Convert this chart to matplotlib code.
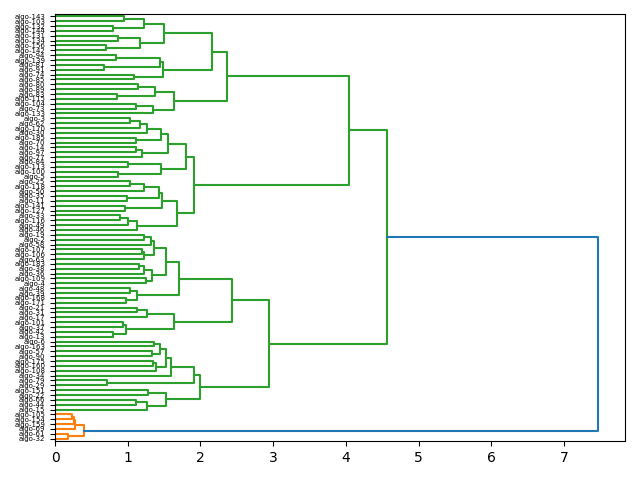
import matplotlib
matplotlib.use("Agg")
import matplotlib.pyplot as plt

# leaf labels, top to bottom
labels = ["algo-143", "algo-103", "algo-132", "algo-144", "algo-131", "algo-134", "algo-156", "algo-142",
          "algo-94", "algo-139", "algo-81", "algo-91", "algo-74", "algo-85",
          "algo-80", "algo-89", "algo-83", "algo-115", "algo-104", "algo-73", "algo-133",
          "algo-3", "algo-62", "algo-170", "algo-30", "algo-185", "algo-70", "algo-14", "algo-97", "algo-77",
          "algo-84", "algo-113", "algo-100", "algo-5",
          "algo-25", "algo-118", "algo-50", "algo-35", "algo-11", "algo-141", "algo-127",
          "algo-33", "algo-116", "algo-49", "algo-46",
          "algo-19", "algo-2", "algo-58", "algo-107", "algo-106", "algo-63", "algo-183", "algo-38",
          "algo-36", "algo-109", "algo-4", "algo-48", "algo-39", "algo-168", "algo-171", "algo-21",
          "algo-31", "algo-17", "algo-101", "algo-37", "algo-42", "algo-13",
          "algo-6", "algo-163", "algo-57", "algo-90", "algo-175", "algo-160", "algo-108", "algo-34",
          "algo-79", "algo-29", "algo-151", "algo-22", "algo-66", "algo-44", "algo-15",
          "algo-105", "algo-154", "algo-159", "algo-69", "algo-61", "algo-32"]

# merges: (name, left, right, distance); ints are leaf indices
merges = [
    ("g1a", 0, 1, 0.95), ("g1b", 2, 3, 0.80), ("g1ab", "g1a", "g1b", 1.22),
    ("g1c", 4, 5, 0.86), ("g1d", 6, 7, 0.70), ("g1cd", "g1c", "g1d", 1.17),
    ("g1", "g1ab", "g1cd", 1.50),
    ("g2a", 8, 9, 0.84), ("g2b", 10, 11, 0.68), ("g2ab", "g2a", "g2b", 1.45),
    ("g2c", 12, 13, 1.08), ("g2", "g2ab", "g2c", 1.48),
    ("g12", "g1", "g2", 2.16),
    ("g3a", 14, 15, 1.14), ("g3b", 16, 17, 0.85), ("g3ab", "g3a", "g3b", 1.37),
    ("g3c", 18, 19, 1.12), ("g3cd", "g3c", 20, 1.35), ("g3", "g3ab", "g3cd", 1.64),
    ("top", "g12", "g3", 2.37),
    ("b1a", 21, 22, 1.03), ("b1b", "b1a", 23, 1.17), ("b1c", "b1b", 24, 1.26),
    ("b1d", 25, 26, 1.12), ("b1", "b1c", "b1d", 1.46),
    ("b2a", 27, 28, 1.12), ("b2", "b2a", 29, 1.20), ("a1", "b1", "b2", 1.55),
    ("a2a", 30, 31, 1.01), ("a2b", 32, 33, 0.87), ("a2", "a2a", "a2b", 1.46),
    ("sa", "a1", "a2", 1.80),
    ("c1", 34, 35, 1.03), ("c2", "c1", 36, 1.22), ("c3", 37, 38, 0.99),
    ("c", "c2", "c3", 1.43), ("d1", 39, 40, 0.96), ("d", "c", "d1", 1.47),
    ("e1", 41, 42, 0.90), ("e2", "e1", 43, 1.01), ("e", "e2", 44, 1.13),
    ("sb", "d", "e", 1.68),
    ("s", "sa", "sb", 1.91),
    ("upper", "top", "s", 4.04),
    ("p1", 45, 46, 1.22), ("p", "p1", 47, 1.32), ("q1", 48, 49, 1.20), ("q", "q1", 50, 1.22),
    ("pq", "p", "q", 1.36),
    ("r1", 51, 52, 1.16), ("r", "r1", 53, 1.22), ("rs1", 54, 55, 1.25), ("rs", "r", "rs1", 1.34),
    ("l1a1", "pq", "rs", 1.53),
    ("t1", 56, 57, 1.03), ("t2", 58, 59, 0.98), ("l1a2", "t1", "t2", 1.13),
    ("l1a", "l1a1", "l1a2", 1.71),
    ("u1", 60, 61, 1.13), ("u", "u1", 62, 1.26),
    ("v1", 63, 64, 0.94), ("v2", 65, 66, 0.80), ("v", "v1", "v2", 0.98),
    ("l1b", "u", "v", 1.63),
    ("l1", "l1a", "l1b", 2.43),
    ("w1", 67, 68, 1.36), ("w2", 69, 70, 1.33), ("w", "w1", "w2", 1.44),
    ("x1", 71, 72, 1.35), ("x", "x1", 73, 1.39), ("wx", "w", "x", 1.52),
    ("l2a1", "wx", 74, 1.60), ("y1", 75, 76, 0.71), ("l2a", "l2a1", "y1", 1.91),
    ("z1", 77, 78, 1.28), ("z2", 79, 80, 1.12), ("z3", "z2", 81, 1.26),
    ("l2b", "z1", "z3", 1.52),
    ("l2", "l2a", "l2b", 2.00),
    ("lower", "l1", "l2", 2.94),
    ("green", "upper", "lower", 4.57),
    ("o1", 82, 83, 0.24), ("o2", "o1", 84, 0.26), ("o3", "o2", 85, 0.27),
    ("o4", 86, 87, 0.18), ("orange", "o3", "o4", 0.40),
    ("root", "green", "orange", 7.47),
]

n = len(labels)
pos = {i: (10 * (n - 1 - i) + 5, 0.0) for i in range(n)}
rows = {}
for name, a, b, h in merges:
    pos[name] = ((pos[a][0] + pos[b][0]) / 2, h)
    rows[name] = (a, b, h)

maxh = max(m[3] for m in merges)
thr = 0.7 * maxh

# clusters below threshold whose parent is above it get their own colour
tops = []
for name, a, b, h in merges:
    if h >= thr:
        for ch in (a, b):
            if not isinstance(ch, int) and rows[ch][2] < thr:
                tops.append(ch)
tops.sort(key=lambda c: pos[c][0])
color = {}


def paint(node, c):
    if isinstance(node, int):
        return
    color[node] = c
    paint(rows[node][0], c)
    paint(rows[node][1], c)


for k, t in enumerate(tops):
    paint(t, "C%d" % (k + 1))

fig, ax = plt.subplots(figsize=(6.4, 4.8), dpi=100)
for name, a, b, h in merges:
    ya, ha = pos[a]
    yb, hb = pos[b]
    ax.plot([ha, h, h, hb], [ya, ya, yb, yb], color=color.get(name, "C0"), lw=1.5)

ax.set_xlim(0, maxh * 1.05)
ax.set_ylim(0, 10 * n)
ax.set_yticks([10 * (n - 1 - i) + 5 for i in range(n)])
ax.set_yticklabels(labels, fontsize=5)

plt.subplots_adjust(left=0.086, right=0.977, top=0.971, bottom=0.081)
plt.savefig("out.png")
